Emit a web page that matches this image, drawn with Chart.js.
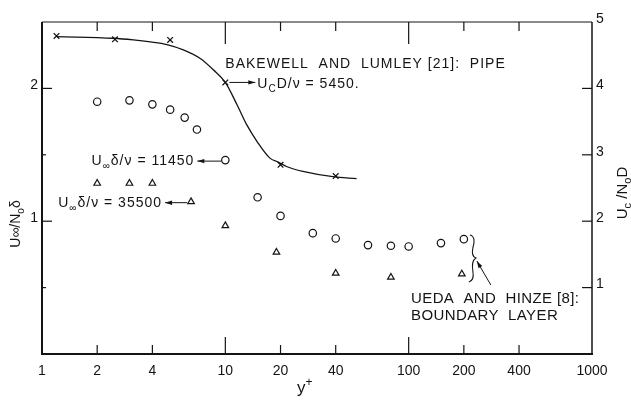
<!DOCTYPE html>
<html>
<head>
<meta charset="utf-8">
<script src="https://cdn.jsdelivr.net/npm/chart.js@4.4.1/dist/chart.umd.min.js"></script>
<style>
  html, body { margin: 0; padding: 0; background: #fff; }
  #wrap { width: 631px; height: 401px; }
</style>
</head>
<body>
<div id="wrap"><canvas id="chart" width="631" height="401"></canvas></div>
<script>
const INK = "#141414";
const FONT = '"Liberation Sans", Arial, sans-serif';

// axis ticks
const xTicks = [1, 2, 4, 10, 20, 40, 100, 200, 400, 1000];
const xMarks = [2, 4, 10, 20, 40, 100, 200, 400];
const leftTicks = [1, 2];
const leftMarks = [0.5, 1, 1.5, 2];
const rightTicks = [1, 2, 3, 4, 5];
const rightMarks = [1, 2, 3, 4];

// Bakewell and Lumley, pipe (right axis, Uc/NoD)
const pipeX = [1.2, 2.5, 5, 10, 20, 40];
const pipeY = [4.79, 4.74, 4.73, 4.09, 2.85, 2.68];
const curveX = [1.2, 2.45, 3.15, 3.9, 4.8, 5.9, 7.3, 8.6, 10, 11.6, 13.1, 14.9, 17.5, 19.4, 21.7, 26.5, 38.6, 52];
const curveY = [4.78, 4.755, 4.73, 4.70, 4.66, 4.58, 4.45, 4.28, 4.09, 3.75, 3.45, 3.20, 2.95, 2.89, 2.82, 2.75, 2.67, 2.64];

// Ueda and Hinze, boundary layer (left axis, Uinf/No delta)
const circX = [2, 3, 4, 5, 6, 7, 10, 15, 20, 30, 40, 60, 80, 100, 150, 200];
const circY = [1.90, 1.91, 1.88, 1.84, 1.78, 1.69, 1.46, 1.18, 1.04, 0.91, 0.87, 0.82, 0.815, 0.81, 0.835, 0.865];
const triX = [2, 3, 4, 6.5, 10, 19, 40, 80, 195];
const triY = [1.285, 1.285, 1.285, 1.147, 0.966, 0.766, 0.608, 0.578, 0.602];

function pts(xs, ys) {
  return xs.map((x, i) => ({ x: x, y: ys[i] }));
}

function fontFor(mode, size) {
  return mode === "n" ? `${size}px ${FONT}` : `${Math.round(size * 0.7)}px ${FONT}`;
}

function rich(ctx, x, y, parts, size, align) {
  const widths = parts.map(([t, m]) => { ctx.font = fontFor(m, size); return ctx.measureText(t).width; });
  const total = widths.reduce((p, c) => p + c, 0);
  let cx = align === "center" ? x - total / 2 : align === "right" ? x - total : x;
  ctx.textAlign = "left";
  ctx.textBaseline = "alphabetic";
  parts.forEach(([t, m], i) => {
    ctx.font = fontFor(m, size);
    const dy = m === "sub" ? size * 0.28 : m === "sup" ? -size * 0.4 : 0;
    ctx.fillText(t, cx, y + dy);
    cx += widths[i];
  });
  return total;
}

function seg(ctx, x1, y1, x2, y2, w) {
  ctx.lineWidth = w;
  ctx.beginPath();
  ctx.moveTo(x1, y1);
  ctx.lineTo(x2, y2);
  ctx.stroke();
}

function arrow(ctx, x1, y1, x2, y2) {
  seg(ctx, x1, y1, x2, y2, 1);
  const ang = Math.atan2(y2 - y1, x2 - x1);
  const len = 7, half = 2.2;
  ctx.beginPath();
  ctx.moveTo(x2, y2);
  ctx.lineTo(x2 - len * Math.cos(ang) + half * Math.sin(ang), y2 - len * Math.sin(ang) - half * Math.cos(ang));
  ctx.lineTo(x2 - len * Math.cos(ang) - half * Math.sin(ang), y2 - len * Math.sin(ang) + half * Math.cos(ang));
  ctx.closePath();
  ctx.fill();
}

const decorPlugin = {
  id: "decor",
  afterDraw(chart) {
    const { ctx, chartArea: a, scales } = chart;
    const xs = scales.x, yl = scales.y, yr = scales.y2;
    ctx.save();
    ctx.strokeStyle = INK;
    ctx.fillStyle = INK;
    ctx.lineCap = "butt";

    // frame
    seg(ctx, a.left, a.top, a.left, a.bottom + 1, 2);
    seg(ctx, a.left - 1, a.bottom, a.right + 1, a.bottom, 2);
    seg(ctx, a.left, a.top, a.right, a.top, 1);
    seg(ctx, a.right, a.top, a.right, a.bottom, 1.5);

    // inward tick marks
    xMarks.forEach((v) => {
      const px = xs.getPixelForValue(v);
      const decade = v === 10 || v === 100;
      seg(ctx, px, a.bottom, px, a.bottom - (decade ? 17 : 9), 1.2);
      seg(ctx, px, a.top, px, a.top + (decade ? 22 : 9), 1.2);
    });
    leftMarks.forEach((v) => {
      const py = yl.getPixelForValue(v);
      seg(ctx, a.left, py, a.left + (Number.isInteger(v) ? 10 : 4), py, 1.2);
    });
    rightMarks.forEach((v) => {
      const py = yr.getPixelForValue(v);
      seg(ctx, a.right, py, a.right - 10, py, 1.2);
    });

    // pipe annotation
    const x10 = xs.getPixelForValue(10);
    ctx.letterSpacing = "1px";
    rich(ctx, x10, 68, [["BAKEWELL  AND  LUMLEY [21]:  PIPE", "n"]], 14, "left");
    const yc = yr.getPixelForValue(4.09);
    arrow(ctx, x10 + 4, yc, x10 + 30, yc);
    rich(ctx, x10 + 32, 88, [["U", "n"], ["C", "sub"], ["D/ν = 5450.", "n"]], 14, "left");

    // Reynolds-number labels for the boundary layer sets
    const yCirc = yl.getPixelForValue(1.46);
    arrow(ctx, x10 - 4, yCirc + 1, x10 - 28, yCirc + 1);
    rich(ctx, x10 - 31, yCirc + 5, [["U", "n"], ["∞", "sub"], ["δ/ν = 11450", "n"]], 14, "right");
    const xTri = xs.getPixelForValue(6.5);
    const yTri = yl.getPixelForValue(1.147);
    arrow(ctx, xTri - 4, yTri + 1, xTri - 26, yTri + 1);
    rich(ctx, xTri - 29, yTri + 5, [["U", "n"], ["∞", "sub"], ["δ/ν = 35500", "n"]], 14, "right");

    // Ueda and Hinze label with brace
    const x200 = xs.getPixelForValue(200);
    ctx.lineWidth = 1.1;
    ctx.beginPath();
    ctx.moveTo(x200 + 6, 235);
    ctx.bezierCurveTo(x200 + 11, 236, x200 + 11, 242, x200 + 9, 248);
    ctx.bezierCurveTo(x200 + 8, 253, x200 + 9, 257, x200 + 12, 258);
    ctx.bezierCurveTo(x200 + 9, 260, x200 + 8, 265, x200 + 9, 271);
    ctx.bezierCurveTo(x200 + 10, 277, x200 + 9, 281, x200 + 5, 282);
    ctx.stroke();
    arrow(ctx, x200 + 27, 285, x200 + 13, 261);
    ctx.letterSpacing = "0.4px";
    rich(ctx, 411, 303, [["UEDA  AND  HINZE [8]:", "n"]], 15, "left");
    rich(ctx, 411, 320, [["BOUNDARY  LAYER", "n"]], 15, "left");
    ctx.letterSpacing = "0px";

    // axis titles
    rich(ctx, 297, 393, [["y", "n"], ["+", "sup"]], 17, "left");
    ctx.save();
    ctx.translate(20, 224);
    ctx.rotate(-Math.PI / 2);
    rich(ctx, 0, 0, [["U∞/N", "n"], ["o", "sub"], ["δ", "n"]], 14, "center");
    ctx.restore();
    ctx.save();
    ctx.translate(627, 193);
    ctx.rotate(-Math.PI / 2);
    rich(ctx, 0, 0, [["U", "n"], ["c", "sub"], [" /N", "n"], ["o", "sub"], ["D", "n"]], 15, "center");
    ctx.restore();

    ctx.restore();
  },
};

const tickFont = { family: FONT, size: 14 };

new Chart(document.getElementById("chart"), {
  type: "scatter",
  data: {
    datasets: [
      {
        label: "pipe curve",
        data: pts(curveX, curveY),
        yAxisID: "y2",
        showLine: true,
        pointRadius: 0,
        borderColor: INK,
        borderWidth: 1.3,
        cubicInterpolationMode: "monotone",
      },
      {
        label: "pipe",
        data: pts(pipeX, pipeY),
        yAxisID: "y2",
        pointStyle: "crossRot",
        pointRadius: 4,
        borderColor: INK,
        borderWidth: 1.3,
      },
      {
        label: "Re 11450",
        data: pts(circX, circY),
        yAxisID: "y",
        pointStyle: "circle",
        pointRadius: 3.7,
        backgroundColor: "#fff",
        borderColor: INK,
        borderWidth: 1.2,
      },
      {
        label: "Re 35500",
        data: pts(triX, triY),
        yAxisID: "y",
        pointStyle: "triangle",
        pointRadius: 3.8,
        backgroundColor: "#fff",
        borderColor: INK,
        borderWidth: 1.2,
      },
    ],
  },
  options: {
    responsive: false,
    animation: false,
    devicePixelRatio: 1,
    layout: { padding: { top: 22 } },
    plugins: { legend: { display: false }, tooltip: { enabled: false } },
    scales: {
      x: {
        type: "logarithmic",
        position: "bottom",
        min: 1,
        max: 1000,
        afterBuildTicks: (s) => { s.ticks = xTicks.map((v) => ({ value: v })); },
        afterFit: (s) => { s.height = 47; },
        grid: { display: false, drawTicks: false },
        border: { display: false },
        ticks: { color: INK, font: tickFont, padding: 9, autoSkip: false, maxRotation: 0, callback: (v) => String(v) },
      },
      y: {
        type: "linear",
        position: "left",
        min: 0,
        max: 2.5,
        afterBuildTicks: (s) => { s.ticks = leftTicks.map((v) => ({ value: v })); },
        afterFit: (s) => { s.width = 42; },
        grid: { display: false, drawTicks: false },
        border: { display: false },
        ticks: { color: INK, font: tickFont, padding: 4, labelOffset: -3, callback: (v) => String(v) },
      },
      y2: {
        type: "linear",
        position: "right",
        min: 0,
        max: 5,
        afterBuildTicks: (s) => { s.ticks = rightTicks.map((v) => ({ value: v })); },
        afterFit: (s) => { s.width = 39; },
        grid: { display: false, drawTicks: false },
        border: { display: false },
        ticks: { color: INK, font: tickFont, padding: 4, labelOffset: -3, callback: (v) => String(v) },
      },
    },
  },
  plugins: [decorPlugin],
});
</script>
</body>
</html>
